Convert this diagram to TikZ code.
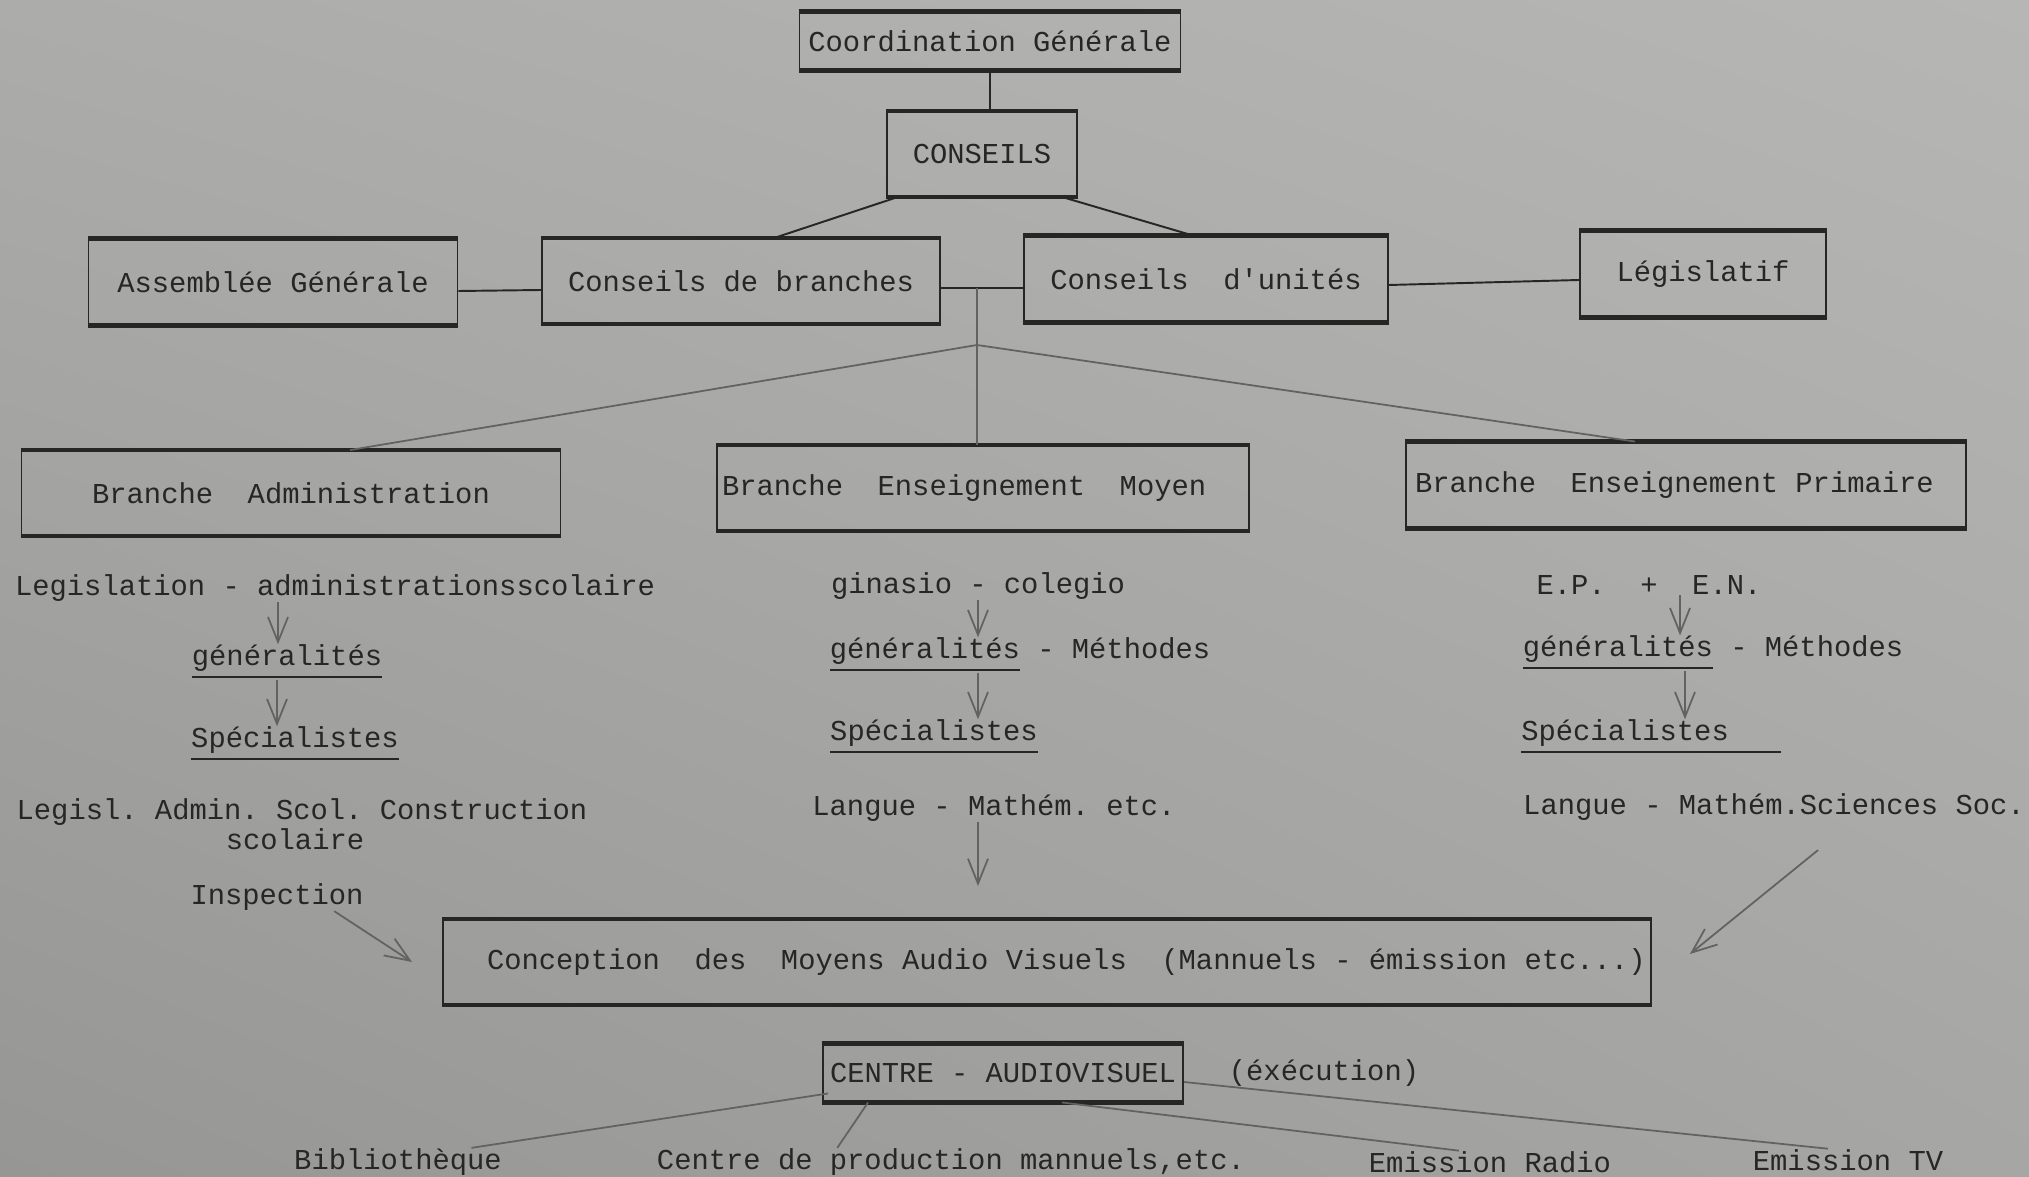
\documentclass[tikz,border=0pt]{standalone}
\usepackage{fontspec}
\usepackage{tikz}
\usetikzlibrary{arrows.meta,shadings}
\newfontfamily\typefont{Liberation Mono}
\frenchspacing
\definecolor{paperA}{RGB}{172,172,170}
\definecolor{paperB}{RGB}{182,182,180}
\definecolor{paperC}{RGB}{150,150,148}
\definecolor{paperD}{RGB}{166,166,164}
\definecolor{ink}{RGB}{38,38,38}
\definecolor{graphite}{RGB}{98,98,98}
\tikzset{
  typed/.style={inner sep=0pt, text=ink, font=\typefont\fontsize{8.2pt}{9.8pt}\selectfont},
  orgbox/.style={typed, draw=ink, line width=0.55pt},
  rule/.style={draw=ink, line width=1.4pt},
  link/.style={draw=ink, line width=0.55pt},
  pencil/.style={draw=graphite, line width=0.5pt}
}

\begin{document}
\begin{tikzpicture}[x=0.1mm, y=-0.1mm, >={Straight Barb[length=2.5mm,width=2mm]}]
      \shade[upper left=paperA, upper right=paperB, lower left=paperC, lower right=paperD] (0,0) rectangle (2029,1177);
      \useasboundingbox (0,0) rectangle (2029,1177);
      \node[orgbox, minimum width=38.1mm, minimum height=5.7mm] (coord) at (990,41) {Coordination Générale};
      \node[orgbox, minimum width=19mm, minimum height=8.4mm] (conseils) at (982,154) {CONSEILS};
      \node[orgbox, minimum width=36.9mm, minimum height=8.5mm] (assemblee) at (273,282) {Assemblée Générale};
      \node[orgbox, minimum width=39.8mm, minimum height=8.4mm] (cbranches) at (741,281) {Conseils de branches};
      \node[orgbox, minimum width=36.4mm, minimum height=8.5mm] (cunites) at (1206,279) {Conseils\ \ d'unités};
      \node[orgbox, minimum width=24.6mm, minimum height=8.5mm] (legis) at (1703,274) {Législatif};
      \node[orgbox, minimum width=53.9mm, minimum height=8.4mm] (badmin) at (291,493) {Branche\ \ Administration};
      \node[orgbox, minimum height=8.4mm, inner xsep=0.5mm] (bmoyen) at (983,488) {\makebox[52.2mm][l]{Branche\ \ Enseignement\ \ Moyen}};
      \node[orgbox, minimum height=8.5mm, inner xsep=0.9mm] (bprim) at (1686,485) {\makebox[54.2mm][l]{Branche\ \ Enseignement Primaire}};
      \node[orgbox, minimum height=8.4mm, inner xsep=4.4mm] (concept) at (1047,962) {\makebox[112mm][l]{Conception\ \ des\ \ Moyens Audio Visuels\ \ (Mannuels - émission etc...)}};
      \node[orgbox, minimum width=36mm, minimum height=5.7mm] (centre) at (1003,1073) {CENTRE - AUDIOVISUEL};
      \foreach \n in {coord,conseils,assemblee,cbranches,cunites,legis,badmin,bmoyen,bprim,concept,centre}
        \draw[rule] (\n.north west) -- (\n.north east) (\n.south west) -- (\n.south east);

      \node[typed] (lgA) at (335,588) {Legislation - administrationsscolaire};
      \node[typed] (genA) at (287,662) {\underline{généralités}};
      \node[typed] (speA) at (295,744) {\underline{Spécialistes}};
      \node[typed] (sujA) at (302,812) {Legisl. Admin. Scol. Construction};
      \node[typed] (scolA) at (295,839) {scolaire};
      \node[typed] (insp) at (277,897) {Inspection};

      \node[typed] (ginM) at (978,586) {ginasio - colegio};
      \node[typed] (genM) at (1020,655) {\underline{généralités} - Méthodes};
      \node[typed] (speM) at (934,737) {\underline{Spécialistes}};
      \node[typed] (sujM) at (994,808) {Langue - Mathém. etc.};

      \node[typed] (epen) at (1649,585) {E.P.\ \ +\ \ E.N.};
      \node[typed] (genP) at (1713,653) {\underline{généralités} - Méthodes};
      \node[typed] (speP) at (1651,737) {\underline{Spécialistes\ \ \ }};
      \node[typed] (sujP) at (1774,807) {Langue - Mathém.Sciences Soc.};

      \node[typed] (exec) at (1324,1073) {(éxécution)};
      \node[typed] (bib) at (398,1162) {Bibliothèque};
      \node[typed] (prod) at (951,1162) {Centre de production mannuels,etc.};
      \node[typed] (radio) at (1490,1162) {Emission Radio};
      \node[typed] (tv) at (1848,1160) {Emission TV};

      \coordinate (jct) at (977,288);
      \coordinate (apex) at (977,345);
      \draw[link] (coord.south) -- (coord.south |- conseils.north);
      \draw[link] ([xshift=1.2mm]conseils.south west) -- ([xshift=3.3mm]cbranches.north);
      \draw[link] ([xshift=-1.6mm]conseils.south east) -- ([xshift=-1.3mm]cunites.north);
      \draw[link] ([yshift=-0.9mm]assemblee.east) -- ([yshift=-0.9mm]cbranches.west);
      \draw[link] (cbranches.east |- jct) -- (cunites.west |- jct);
      \draw[link] ([yshift=-0.6mm]cunites.east) -- ([yshift=-0.6mm]legis.west);
      \draw[pencil] (jct) -- (jct |- bmoyen.north);
      \draw[pencil] ([xshift=5.9mm]badmin.north) -- (apex) -- ([xshift=-5.1mm]bprim.north);

      \draw[pencil,->] ([xshift=-0.9mm]genA.north |- lgA.south) -- ([xshift=-0.9mm]genA.north);
      \draw[pencil,->] ([xshift=-1mm]genA.south) -- ([xshift=-1mm]genA.south |- speA.north);
      \draw[pencil,->] ([xshift=-3mm]insp.south east) -- ([xshift=-3mm]concept.west);
      \draw[pencil,->] (ginM.south) -- (ginM.south |- genM.north);
      \draw[pencil,->] (ginM.south |- genM.south) -- (ginM.south |- speM.north);
      \draw[pencil,->] (ginM.south |- sujM.south) -- ([yshift=3.3mm]ginM.south |- concept.north);
      \draw[pencil,->] ([xshift=3.1mm]epen.south) -- ([xshift=3.1mm]epen.south |- genP.north);
      \draw[pencil,->] ([xshift=3.6mm]epen.south |- genP.south) -- ([xshift=3.6mm]epen.south |- speP.north);
      \draw[pencil,->] ([xshift=4.4mm,yshift=-2.9mm]sujP.south) -- ([xshift=3.8mm,yshift=0.8mm]concept.east);

      \draw[pencil] ([xshift=0.6mm,yshift=0.9mm]centre.south west) -- ([xshift=-3.1mm]bib.north east);
      \draw[pencil] ([xshift=4.6mm]centre.south west) -- ([xshift=18.1mm]prod.north west);
      \draw[pencil] ([xshift=5.9mm]centre.south) -- ([xshift=-3.1mm]radio.north);
      \draw[pencil] ([yshift=-0.9mm]centre.east) -- ([xshift=-2mm]tv.north);
\end{tikzpicture}
\end{document}
